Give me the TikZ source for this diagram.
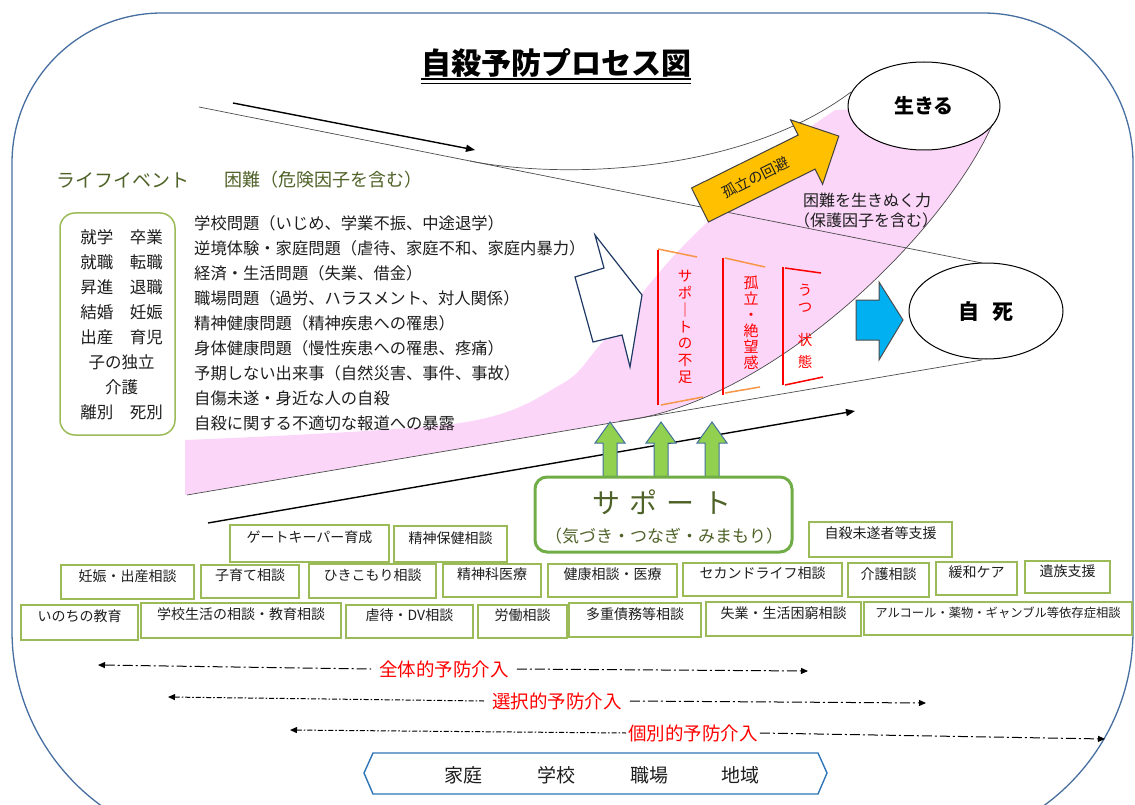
\documentclass[tikz,border=0pt]{standalone}
\usepackage{fontspec}
\setmainfont{Noto Sans CJK JP}
\newfontfamily\jp{Noto Sans CJK JP}
\usetikzlibrary{arrows.meta,shapes.geometric,fit,calc}
\definecolor{framec}{RGB}{70,110,160}
\definecolor{lgreen}{RGB}{155,187,89}
\definecolor{dgreen}{RGB}{79,98,40}
\definecolor{sgreen}{RGB}{112,173,71}
\definecolor{pinkc}{RGB}{251,214,249}
\definecolor{orgc}{RGB}{247,150,70}
\definecolor{yelc}{RGB}{255,192,0}
\definecolor{cyanc}{RGB}{0,176,240}
\definecolor{garrow}{RGB}{146,208,80}
\definecolor{garrowline}{RGB}{65,113,156}
\definecolor{navyc}{RGB}{31,56,100}
\definecolor{hexc}{RGB}{46,117,182}
\definecolor{txt}{RGB}{30,30,30}
\tikzset{
  sbox/.style={draw=lgreen, line width=1.4pt, fill=white, inner sep=0pt, text=txt, font=\jp\fontsize{14}{16}\selectfont},
  lst/.style={anchor=west, inner sep=0pt, text=txt, font=\jp\fontsize{16.3}{18}\selectfont},
  ev/.style={inner sep=0pt, text=txt, font=\jp\fontsize{16.5}{18}\selectfont},
  thinl/.style={draw=black!70, line width=0.7pt},
  tarrow/.style={line width=1.4pt, -{Triangle[length=9pt,width=7pt]}},
  ddl/.style={line width=1pt, dash pattern=on 10pt off 3pt on 2pt off 3pt},
  dds/.style={line width=1pt, dash pattern=on 5pt off 2pt on 1.5pt off 2pt},
  tipR/.style={-{Triangle[length=7pt,width=6pt]}},
  tipL/.style={{Triangle[length=7pt,width=6pt]}-},
  redlab/.style={inner ysep=0pt, inner xsep=8pt, text=red, font=\jp\fontsize{18.5}{20}\selectfont},
  redl/.style={draw=red, line width=1.5pt},
  orgl/.style={draw=orgc, line width=1.5pt},
  vt/.style={inner sep=0pt, align=center, text=red},
  hexw/.style={inner sep=0pt, text=txt, font=\jp\fontsize{19}{20}\selectfont},
}
\newcommand\bx[6]{\node[sbox, fit={(#2,#3) (#4,#5)}] (#1) {#6};}
\begin{document}
\begin{tikzpicture}[x=1pt,y=-1pt]
\useasboundingbox (0,0) rectangle (1135,805);
% outer frame
\draw[framec, line width=1.3pt] (12,163) .. controls (12,80) and (79,13) .. (162,13) -- (983,13)
  .. controls (1066,13) and (1133,80) .. (1133,163) -- (1133,631)
  .. controls (1133,750) and (1036,847) .. (917,847) -- (228,847)
  .. controls (109,847) and (12,750) .. (12,631) -- cycle;
% title
\node[inner sep=0pt, font=\jp\bfseries\fontsize{30}{32}\selectfont] (title) at (556,63) {自殺予防プロセス図};
\draw[line width=2.4pt] ([yshift=-1.5pt]title.south west) -- ([yshift=-1.5pt]title.south east);
\draw[line width=0.9pt] ([yshift=-5.5pt]title.south west) -- ([yshift=-5.5pt]title.south east);
% pink region
\fill[pinkc] (185,440) -- (185,495) -- (620,421.1) .. controls (770,405) and (950,230) .. (996,116)
  -- (924,106) -- (835,110)
  -- plot[smooth, tension=0.55] coordinates {(835,110) (765,160) (743,187) (670,260) (600,345) (560,385) (460,423) (185,440)} -- cycle;
% funnel lines
\coordinate (uL) at (199,107);
\coordinate (uR) at (982,263);
\coordinate (uB) at (470,161);
\coordinate (uE) at (851,92);
\coordinate (lL) at (187,495);
\coordinate (lR) at (982,360);
\coordinate (lB) at (620,421.1);
\coordinate (lE) at (996,116);
\draw[thinl] (uL) -- (uR);
\draw[thinl] (uB) .. controls (560,179) and (740,175) .. (uE);
\draw[thinl] (lL) -- (lR);
\draw[thinl] (lB) .. controls (770,405) and (950,230) .. (lE);
% thick arrows
\coordinate (a1s) at (233,103);
\coordinate (a1e) at (475,150);
\coordinate (a2s) at (208,523);
\coordinate (a2e) at (855,411);
\draw[tarrow] (a1s) -- (a1e);
\draw[tarrow] (a2s) -- (a2e);
% ellipses
\node[ellipse, draw, line width=1pt, fill=white, minimum width=152pt, minimum height=88pt, inner sep=0pt,
  font=\jp\bfseries\fontsize{20}{22}\selectfont] (live) at (924,106) {生きる};
\node[ellipse, draw, line width=1pt, fill=white, minimum width=154pt, minimum height=96pt, inner sep=0pt,
  font=\jp\bfseries\fontsize{21}{22}\selectfont] (death) at (986,311) {自\hspace{14pt}死};
% yellow arrow
\begin{scope}[shift={(700,205)}, rotate=26.4]
  \draw[fill=yelc, draw=black!75, line width=1pt] (0,-19) -- (119,-19) -- (119,-36) -- (155,0) -- (119,36) -- (119,19) -- (0,19) -- cycle;
  \node[rotate=26.4, inner sep=0pt, text=txt, font=\jp\fontsize{14.5}{16}\selectfont] (iso) at (62,0) {孤立の回避};
\end{scope}
\node[inner sep=0pt, text=txt, font=\jp\fontsize{16}{18}\selectfont] (res1) at (867,200) {困難を生きぬく力};
\node[inner sep=0pt, text=txt, font=\jp\fontsize{16}{18}\selectfont] (res2) at (866,220) {（保護因子を含む）};
% white arrow
\draw[navyc, line width=1.2pt, fill=white] (575,277) -- (604,268) -- (595,235) -- (642,295) -- (630,367) -- (622,335) -- (593,342) -- cycle;
% brackets
\draw[redl] (658,250) -- (658,405);
\draw[orgl] (658,249) -- (697,257);
\draw[orgl] (661,405) -- (703,397);
\draw[redl] (723,258) -- (723,395);
\draw[orgl] (725,258) -- (765,267);
\draw[orgl] (725,393) -- (760,387);
\draw[redl] (783,267) -- (783,385);
\draw[redl] (785,268) -- (821,273);
\draw[redl] (785,385) -- (823,377);
\node[vt, font=\jp\fontsize{14.5}{16.7}\selectfont] (v1) at (685,327) {サ\\ポ\\｜\\ト\\の\\不\\足};
\node[vt, font=\jp\fontsize{15}{16}\selectfont] (v2) at (751,323) {孤\\立\\・\\絶\\望\\感};
\node[vt, font=\jp\fontsize{14.5}{16}\selectfont] (v3a) at (805,290) {う};
\node[vt, font=\jp\fontsize{14.5}{16}\selectfont] (v3b) at (805,308) {つ};
\node[vt, font=\jp\fontsize{14.5}{16}\selectfont] (v3c) at (805,340) {状};
\node[vt, font=\jp\fontsize{14.5}{16}\selectfont] (v3d) at (805,362) {態};
% blue arrow
\draw[fill=cyanc, draw=black!70, line width=1pt] (856,300) -- (879,300) -- (879,282) -- (903,320) -- (879,360) -- (879,340) -- (856,340) -- cycle;
% left texts
\node[inner sep=0pt, text=dgreen, font=\jp\fontsize{19}{20}\selectfont] (life) at (122.5,180) {ライフイベント};
\node[inner sep=0pt, text=dgreen, font=\jp\fontsize{18}{20}\selectfont] (diff) at (323,180) {困難（危険因子を含む）};
\node[draw=lgreen, line width=1.5pt, rounded corners=15pt, fit={(60,213) (175,435)}, inner sep=0pt] (lbox) {};
\foreach \t [count=\i] in {就学　卒業,就職　転職,昇進　退職,結婚　妊娠,出産　育児,子の独立,介護,離別　死別}{
  \node[ev] (e\i) at (121.5,{237+25*(\i-1)}) {\t};
}
\foreach \t [count=\i] in {学校問題（いじめ、学業不振、中途退学）,逆境体験・家庭問題（虐待、家庭不和、家庭内暴力）,経済・生活問題（失業、借金）,職場問題（過労、ハラスメント、対人関係）,精神健康問題（精神疾患への罹患）,身体健康問題（慢性疾患への罹患、疼痛）,予期しない出来事（自然災害、事件、事故）,自傷未遂・身近な人の自殺,自殺に関する不適切な報道への暴露}{
  \node[lst] (r\i) at (194,{223+25*(\i-1)}) {\t};
}
% green arrows
\foreach \gx [count=\i] in {610,661,712}{
  \draw[fill=garrow, draw=garrowline, line width=1pt] ({\gx-7},477) -- ({\gx-7},443) -- ({\gx-15},443) -- (\gx,422) -- ({\gx+15},443) -- ({\gx+7},443) -- ({\gx+7},477) -- cycle;
}
% support box
\node[draw=sgreen, line width=3pt, rounded corners=12pt, fit={(535,477) (792,552)}, inner sep=0pt] (sup) {};
\node[inner sep=0pt, text=dgreen, font=\jp\fontsize{28}{30}\selectfont] (supt) at (662,502) {サ\kern9pt ポ\kern9pt ー\kern9pt ト};
\node[inner sep=0pt, text=dgreen, font=\jp\fontsize{17}{18}\selectfont] (sups) at (664,536) {（気づき・つなぎ・みまもり）};
% small boxes
\bx{g1}{230}{525}{389}{562}{ゲートキーパー育成}
\bx{g2}{394}{526}{507}{562}{精神保健相談}
\bx{g3}{809}{522}{952}{557}{自殺未遂者等支援}
\bx{h1}{61}{565}{194}{599}{妊娠・出産相談}
\bx{h2}{201}{565}{299}{598}{子育て相談}
\bx{h3}{309}{564}{436}{598}{ひきこもり相談}
\bx{h4}{443}{564}{541}{597}{精神科医療}
\bx{h5}{548}{564}{677}{597}{健康相談・医療}
\bx{h6}{683}{563}{842}{596}{セカンドライフ相談}
\bx{h7}{848}{563}{929}{597}{介護相談}
\bx{h8}{936}{562}{1017}{595}{緩和ケア}
\bx{h9}{1025}{561}{1110}{593}{遺族支援}
\bx{k1}{21}{605}{138}{640}{いのちの教育}
\bx{k2}{141}{603}{341}{638}{学校生活の相談・教育相談}
\bx{k3}{346}{605}{473}{638}{虐待・DV相談}
\bx{k4}{478}{605}{567}{638}{労働相談}
\bx{k5}{569}{603}{701}{637}{多重債務等相談}
\bx{k6}{706}{602}{861}{636}{失業・生活困窮相談}
\node[sbox, fit={(864,602) (1132,635)}, font=\jp\fontsize{12.3}{14}\selectfont] (k7) {アルコール・薬物・ギャンブル等依存症相談};
% prevention arrows
\coordinate (p1l) at (98,665);
\coordinate (p1r) at (808,671);
\node[redlab] (p1) at (444,669) {全体的予防介入};
\draw[ddl, tipL] (p1l) -- (p1.west);
\draw[ddl, tipR] (p1.east) -- (p1r);
\coordinate (p2l) at (168,697);
\coordinate (p2r) at (926,703);
\node[redlab] (p2) at (557,701) {選択的予防介入};
\draw[dds, tipL] (p2l) -- (p2.west);
\draw[ddl, tipR] (p2.east) -- (p2r);
\coordinate (p3l) at (290,730);
\coordinate (p3r) at (1105,739);
\node[redlab, inner xsep=2pt] (p3) at (693,733) {個別的予防介入};
\draw[dds, tipL] (p3l) -- (p3.west);
\draw[ddl, tipR] (p3.east) -- (p3r);
% hexagon
\draw[hexc, line width=1.4pt, fill=white] (373,753) -- (818,753) -- (827,773) -- (818,794) -- (373,794) -- (364,773) -- cycle;
\node[hexw] (w1) at (463,775) {家庭};
\node[hexw] (w2) at (556,775) {学校};
\node[hexw] (w3) at (649,775) {職場};
\node[hexw] (w4) at (740,775) {地域};
\end{tikzpicture}
\end{document}
